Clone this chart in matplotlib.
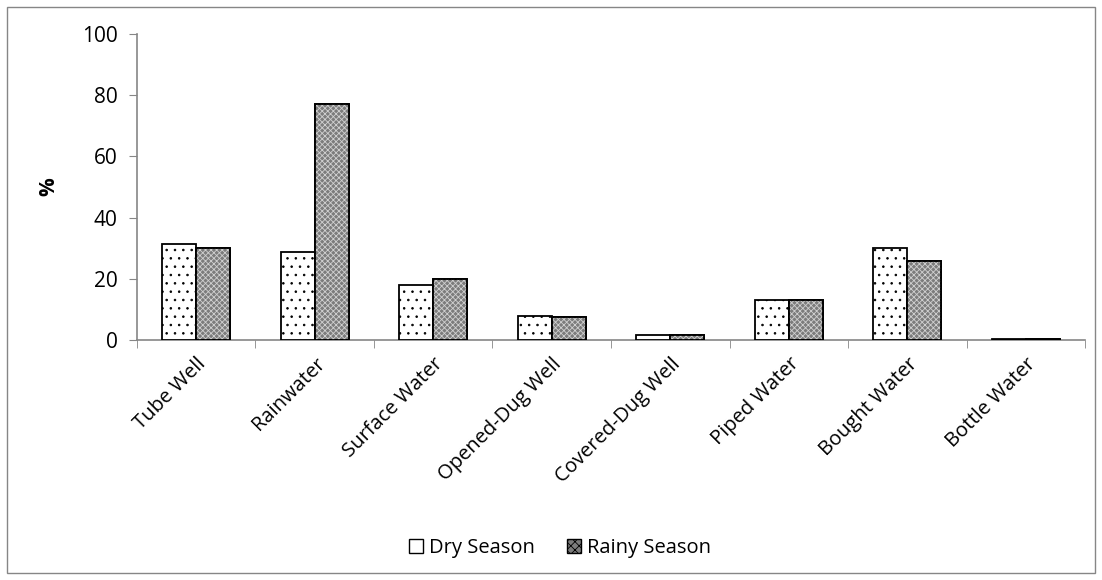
import numpy as np
import matplotlib.pyplot as plt
from matplotlib.patches import Rectangle

# water source use by season (%)
sources = ['Tube Well', 'Rainwater', 'Surface Water', 'Opened-Dug Well',
           'Covered-Dug Well', 'Piped Water', 'Bought Water', 'Bottle Water']
dry_season = [31.5, 28.9, 18.0, 7.8, 1.5, 13.0, 30.0, 0.3]
rainy_season = [30.1, 77.1, 20.0, 7.5, 1.6, 13.0, 25.9, 0.3]
y_ticks = [0, 20, 40, 60, 80, 100]

plt.rcParams['font.family'] = ['Open Sans', 'DejaVu Sans']
plt.rcParams['hatch.linewidth'] = 0.6
plt.rcParams['hatch.color'] = '#444444'

fig = plt.figure(figsize=(11.02, 5.80), dpi=100)
ax = fig.add_axes([0.1243, 0.4138, 0.8603, 0.5276])

x = np.arange(len(sources))
w = 0.287
ax.bar(x - w / 2, dry_season, w, facecolor='white', edgecolor='black',
       linewidth=1.3, hatch='..', zorder=3)
ax.bar(x + w / 2, rainy_season, w, facecolor='#7c7c7c', edgecolor='black',
       linewidth=1.3, zorder=3)
# fine pattern on top of the rainy bars
ax.bar(x + w / 2, rainy_season, w, facecolor='none', edgecolor='#d0d0d0',
       linewidth=0, hatch='xxxxxx', zorder=4)
ax.bar(x + w / 2, rainy_season, w, facecolor='none', edgecolor='black',
       linewidth=1.3, zorder=5)

ax.set_xlim(-0.5, len(sources) - 0.5)
ax.set_ylim(0, 100)
ax.set_yticks(y_ticks)
ax.tick_params(axis='y', labelsize=15, length=6, color='#868686', pad=8)
ax.set_ylabel('%', fontsize=15, fontweight='bold', labelpad=16)

ax.set_xticks(x)
ax.set_xticklabels(sources, rotation=45, ha='right', rotation_mode='anchor',
                   fontsize=14.5)
ax.tick_params(axis='x', length=0, pad=10)
ax.set_xticks(np.arange(len(sources) + 1) - 0.5, minor=True)
ax.tick_params(axis='x', which='minor', length=6, color='#868686')

for side in ['top', 'right']:
    ax.spines[side].set_visible(False)
for side in ['left', 'bottom']:
    ax.spines[side].set_color('#868686')
    ax.spines[side].set_linewidth(1.2)

dry_handle = Rectangle((0, 0), 1, 1, facecolor='white', edgecolor='black',
                       linewidth=1)
rainy_handle = Rectangle((0, 0), 1, 1, facecolor='#7c7c7c', edgecolor='black',
                         hatch='xxxx', linewidth=1)
fig.legend([dry_handle, rainy_handle], ['Dry Season', 'Rainy Season'],
           loc='center', bbox_to_anchor=(0.508, 0.055), ncol=2, frameon=False,
           fontsize=14.5, handlelength=0.7, handleheight=0.7, handletextpad=0.3,
           columnspacing=1.6)

fig.patches.append(Rectangle((0.0065, 0.012), 0.987, 0.976, transform=fig.transFigure,
                             fill=False, edgecolor='#868686', linewidth=1))

fig.savefig('out.png', dpi=100)
